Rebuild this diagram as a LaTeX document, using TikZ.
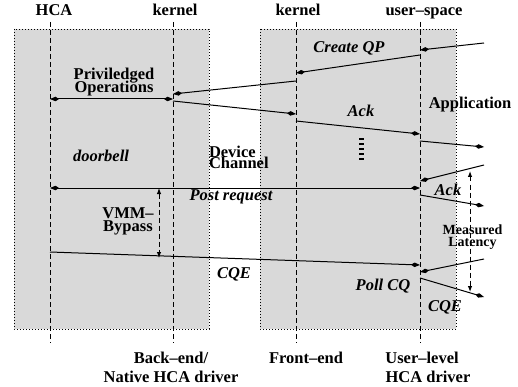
\documentclass[tikz,border=0pt]{standalone}
\usepackage{fontspec}
\setmainfont{Liberation Serif}
\usetikzlibrary{arrows.meta}
\definecolor{regiongray}{RGB}{217,217,217}
% allow lines closer than their glyph extents
\newcommand\tightleading{\lineskiplimit-100pt\relax}
\begin{document}
\begin{tikzpicture}[x=1pt,y=-1pt,
  every node/.style={inner sep=0pt, outer sep=0pt},
  bf/.style={font=\bfseries\fontsize{16.5}{18}\selectfont, anchor=base},
  bi/.style={font=\bfseries\itshape\fontsize{16.5}{18}\selectfont, anchor=base},
  % two-line labels set with tight leading
  tight/.style={font=\bfseries\fontsize{16.5}{13}\selectfont\tightleading, align=center},
  tighter/.style={font=\bfseries\fontsize{16.5}{11}\selectfont\tightleading, align=left},
  tightsm/.style={font=\bfseries\fontsize{14}{12}\selectfont\tightleading, align=center},
  region/.style={fill=regiongray, draw=black, line width=0.8pt, dash pattern=on 0.8pt off 2.2pt},
  lifeline/.style={draw, line width=1pt, dash pattern=on 5pt off 3pt},
  tip/.tip={Kite[length=9pt,width=4.5pt,inset=3.5pt]},
  msg/.style={line width=1pt, -tip},
  dmsg/.style={line width=1pt, tip-tip},
  span/.style={line width=1pt, dash pattern=on 5pt off 3pt, {Latex[length=6pt,width=4.5pt]}-{Latex[length=6pt,width=4.5pt]}},
  dots/.style={line width=4.5pt, dash pattern=on 1.3pt off 3.7pt},
]
\useasboundingbox (0,0) rectangle (518,387);

% host and guest domains
\path[region] (14,29) rectangle (209,329);
\path[region] (260,29) rectangle (456,329);

% lifelines
\coordinate (hcaT) at (50,22);   \coordinate (hcaB) at (50,343);
\coordinate (bkT)  at (173,22);  \coordinate (bkB)  at (173,343);
\coordinate (fkT)  at (296,22);  \coordinate (fkB)  at (296,343);
\coordinate (usT)  at (420,22);  \coordinate (usB)  at (420,343);
\draw[lifeline] (hcaT) -- (hcaB);
\draw[lifeline] (bkT) -- (bkB);
\draw[lifeline] (fkT) -- (fkB);
\draw[lifeline] (usT) -- (usB);

% top labels
\node[bf] (lHCA) at (54,16) {HCA};
\node[bf] (lK1) at (175,16) {kernel};
\node[bf] (lK2) at (298,16) {kernel};
\node[bf] (lUS) at (424,16) {user--space};

% bottom labels
\node[bf] (lBE1) at (171,363) {Back--end/};
\node[bf] (lBE2) at (171,382) {Native HCA driver};
\node[bf] (lFE)  at (306,363) {Front--end};
\node[bf] (lUL1) at (422,363) {User--level};
\node[bf] (lUL2) at (428,382) {HCA driver};

% message endpoints
\coordinate (a1) at (484,43);  \coordinate (a2) at (420,50);
\coordinate (b1) at (420,55);  \coordinate (b2) at (296,73);
\coordinate (c1) at (296,81);  \coordinate (c2) at (173,94);
\coordinate (p1) at (50,99);   \coordinate (p2) at (173,99);
\coordinate (d1) at (173,101); \coordinate (d2) at (296,114);
\coordinate (e1) at (296,121); \coordinate (e2) at (420,134);
\coordinate (f1) at (420,141); \coordinate (f2) at (484,147);
\coordinate (g1) at (484,165); \coordinate (g2) at (420,181);
\coordinate (q1) at (50,188);  \coordinate (q2) at (420,188);
\coordinate (h1) at (420,195); \coordinate (h2) at (484,206);
\coordinate (k1) at (50,252);  \coordinate (k2) at (420,265);
\coordinate (m1) at (484,259); \coordinate (m2) at (420,272);
\coordinate (n1) at (420,278); \coordinate (n2) at (484,297);
\coordinate (v1) at (159,188); \coordinate (v2) at (159,258);
\coordinate (t1) at (470,171); \coordinate (t2) at (470,292);
\coordinate (s1) at (361.5,138.5); \coordinate (s2) at (361.5,162);

\draw[msg] (a1) -- (a2);
\draw[msg] (b1) -- (b2);
\draw[msg] (c1) -- (c2);
\draw[dmsg] (p1) -- (p2);
\draw[msg] (d1) -- (d2);
\draw[msg] (e1) -- (e2);
\draw[msg] (f1) -- (f2);
\draw[msg] (g1) -- (g2);
\draw[dmsg] (q1) -- (q2);
\draw[msg] (h1) -- (h2);
\draw[msg] (k1) -- (k2);
\draw[msg] (m1) -- (m2);
\draw[msg] (n1) -- (n2);
\draw[span] (v1) -- (v2);
\draw[span] (t1) -- (t2);
\draw[dots] (s1) -- (s2);

% message labels
\node[bi] (lCQP) at (349,53) {Create QP};
\node[tight] (lPriv) at (114,81.7) {Priviledged\\Operations};
\node[bi] (lAck) at (361,117) {Ack};
\node[bf] (lApp) at (470,109) {Application};
\node[bi] (lDb)  at (101,162) {doorbell};
\node[tighter, anchor=west] (lDC) at (209,156.9) {Device\\Channel};
\node[bi] (lAck2) at (448,195) {Ack};
\node[bi] (lPost) at (231,200) {Post request};
\node[tight] (lVMM) at (128,221.7) {VMM--\\Bypass};
\node[tightsm] (lML) at (472.5,236.8) {Measured\\Latency};
\node[bi] (lCQE) at (234,278) {CQE};
\node[bi] (lPoll) at (383,290) {Poll CQ};
\node[bi] (lCQE2) at (445,311) {CQE};
\end{tikzpicture}
\end{document}
